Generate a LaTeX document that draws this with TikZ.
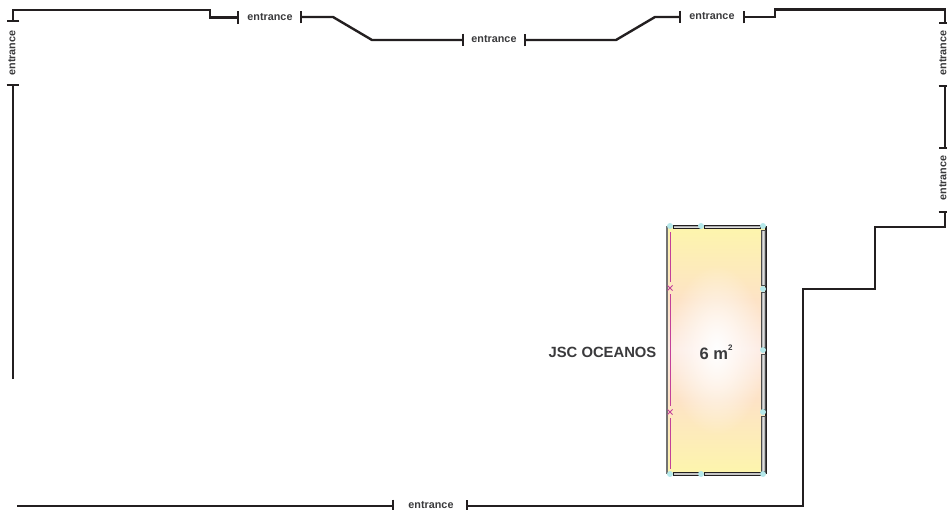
\documentclass[tikz,border=0pt]{standalone}
\usepackage{fontspec}
\setmainfont{Liberation Sans}
\usetikzlibrary{arrows.meta,fadings}
\definecolor{walldark}{HTML}{231F20}
\definecolor{labeldark}{HTML}{3A3A3C}
\definecolor{boothyellow}{HTML}{FDF5AC}
\definecolor{boothpeach}{HTML}{FDE3C6}
\definecolor{boothpink}{HTML}{FDEBE3}
\definecolor{socketcyan}{HTML}{B5E8EA}
\definecolor{fasciapink}{HTML}{C2409A}
\tikzfading[name=boothglow, inner color=transparent!0, outer color=transparent!100]
\tikzset{
    doorbar/.tip={Bar[width=9.5pt,line width=1.3pt]},
    wall/.style={line width=1.8pt, draw=walldark, line join=miter},
    wallboth/.style={wall, doorbar-doorbar},
    doorlabel/.style={font=\bfseries\fontsize{8.1}{10}\selectfont, text=labeldark, inner sep=0pt},
    hpanel/.style={draw=walldark, line width=0.5pt, top color=gray!85, bottom color=gray!85, middle color=gray!25},
    vpanel/.style={draw=black!70, line width=0.4pt, left color=gray!85, right color=gray!85, middle color=gray!25},
    socket/.style={circle, fill=socketcyan, inner sep=0pt, minimum size=4.5pt}
}
\begin{document}
\begin{tikzpicture}[x=0.75pt,y=-0.75pt]
    \useasboundingbox (0,0) rectangle (947,510);
    % booth floor
    \fill[top color=boothyellow, bottom color=boothpeach] (667,226) rectangle (766,300);
    \fill[top color=boothpeach, bottom color=boothpink] (667,300) rectangle (766,350);
    \fill[top color=boothpink, bottom color=boothpeach] (667,350) rectangle (766,400);
    \fill[top color=boothpeach, bottom color=boothyellow] (667,400) rectangle (766,474);
    \fill[white, path fading=boothglow] (668,265) rectangle (765,435);
    % booth frame
    \draw[black!55, line width=0.9pt] (667,226) -- (667,474);
    \draw[walldark, line width=0.9pt] (766,226) -- (766,474);
    \foreach \x/\w in {673/700, 704/760} {
        \draw[hpanel] (\x,225.5) rectangle (\w,228.5);
        \draw[hpanel] (\x,472) rectangle (\w,475);
    }
    \foreach \y/\z in {230/285, 292/347, 354/409, 416/471}
        \draw[vpanel] (761,\y) rectangle (765,\z);
    % fascia
    \draw[fasciapink, line width=0.7pt] (670,232) -- (670,282);
    \draw[fasciapink, line width=0.7pt] (670,294) -- (670,406);
    \draw[fasciapink, line width=0.7pt] (670,418) -- (670,469);
    \foreach \y in {288, 412}
        \draw[fasciapink, line width=0.6pt] (667.5,\y-2.5) -- (672.5,\y+2.5) (667.5,\y+2.5) -- (672.5,\y-2.5);
    \foreach \x/\y in {670/226, 701/226, 763/226, 763/289, 763/350, 763/412, 763/474, 701/474, 670/474}
        \node[socket] at (\x,\y) {};
    % walls
    \draw[wallboth] (239,17.5) -- (210,17.5) -- (210,10) -- (13,10) -- (13,22);
    \draw[wall, -doorbar] (13,379) -- (13,84);
    \draw[wallboth] (300,17) -- (333,17) -- (372,40) -- (464,40);
    \draw[wallboth] (524,40) -- (616,40) -- (655,17) -- (681,17);
    \draw[wallboth] (743,17) -- (775,17) -- (775,9.5) -- (945,9.5) -- (945,24);
    \draw[wallboth] (945,85) -- (945,149);
    \draw[wall, doorbar-] (394,506) -- (17,506);
    \draw[wallboth] (466,506) -- (803,506) -- (803,289) -- (875,289) -- (875,227) -- (945,227) -- (945,211);
    % labels
    \node[doorlabel] (doorA) at (270,17.5) {entrance};
    \node[doorlabel] (doorB) at (494,39.5) {entrance};
    \node[doorlabel] (doorC) at (712,16.5) {entrance};
    \node[doorlabel] (doorD) at (431,505) {entrance};
    \node[doorlabel, rotate=90] (doorE) at (12,53) {entrance};
    \node[doorlabel, rotate=90] (doorF) at (943,53) {entrance};
    \node[doorlabel, rotate=90] (doorG) at (943,178) {entrance};
    \node[font=\bfseries\fontsize{11.1}{13}\selectfont, text=labeldark, inner sep=0pt] (standname) at (602.5,352.5) {JSC OCEANOS};
    \node[font=\bfseries\fontsize{12.4}{14}\selectfont, text=labeldark, inner sep=0pt] (standarea) at (716,352.5) {6 m\raisebox{0.55em}{\fontsize{6}{6}\selectfont 2}};
\end{tikzpicture}
\end{document}
